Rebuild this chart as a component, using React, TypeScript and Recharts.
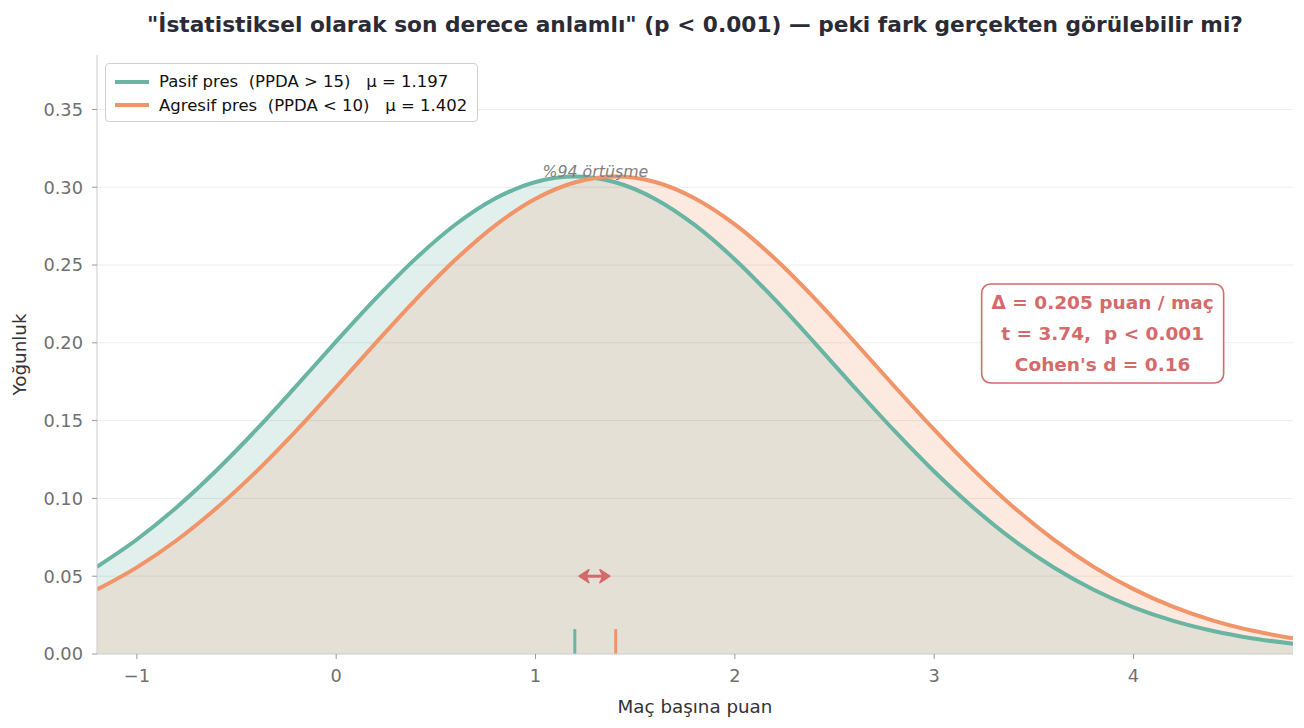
import { ComposedChart, Area, Line, XAxis, YAxis, ReferenceLine, ReferenceDot } from 'recharts'

const xs = [-1.2, -1.0, -0.8, -0.6, -0.4, -0.2, 0, 0.2, 0.4, 0.6, 0.8, 1.0, 1.2, 1.4, 1.6, 1.8, 2.0, 2.2, 2.4, 2.6, 2.8, 3.0, 3.2, 3.4, 3.6, 3.8, 4.0, 4.2, 4.4, 4.6, 4.8]
const pasif = [0.0561, 0.0736, 0.0943, 0.1181, 0.1443, 0.1723, 0.2009, 0.2287, 0.2543, 0.2762, 0.2929, 0.3034, 0.3069, 0.3032, 0.2925, 0.2756, 0.2536, 0.2279, 0.2, 0.1714, 0.1435, 0.1173, 0.0937, 0.073, 0.0556, 0.0413, 0.03, 0.0213, 0.0148, 0.01, 0.0066]
const agresif = [0.0414, 0.0557, 0.0731, 0.0938, 0.1174, 0.1436, 0.1716, 0.2002, 0.228, 0.2537, 0.2757, 0.2926, 0.3032, 0.3069, 0.3034, 0.2928, 0.2761, 0.2542, 0.2286, 0.2007, 0.1721, 0.1442, 0.1179, 0.0942, 0.0735, 0.056, 0.0417, 0.0303, 0.0215, 0.0149, 0.0101]
const means = { pasif: 1.197, agresif: 1.402 }
const xTicks = [-1, 0, 1, 2, 3, 4]
const yTicks = [0, 0.05, 0.1, 0.15, 0.2, 0.25, 0.3, 0.35]
const statLines = ['Δ = 0.205 puan / maç', 't = 3.74,  p < 0.001', "Cohen's d = 0.16"]
const legendRows = [
  { key: 'pasif', text: `Pasif pres  (PPDA > 15)   μ = ${means.pasif}` },
  { key: 'agresif', text: `Agresif pres  (PPDA < 10)   μ = ${means.agresif}` },
]

const data = xs.map((x, i) => ({
  x,
  pasif: pasif[i],
  agresif: agresif[i],
  overlap: Math.min(pasif[i], agresif[i]),
}))

const GREEN = '#69b4a3'
const ORANGE = '#f19468'
const RED = '#d46a6a'
const FONT = '"DejaVu Sans", sans-serif'
const colors: Record<string, string> = { pasif: GREEN, agresif: ORANGE }

function ChartLegend() {
  return (
    <div style={{ position: 'absolute', top: 63, left: 105, width: 373, height: 59, boxSizing: 'border-box', background: '#fff', border: '1px solid #d0d0d0', borderRadius: 4, padding: '6px 0 0 9px', fontSize: 16.5, color: '#111' }}>
      {legendRows.map((r) => (
        <div key={r.key} style={{ display: 'flex', alignItems: 'center', height: 23.5 }}>
          <span style={{ display: 'inline-block', width: 34, height: 4, background: colors[r.key], marginRight: 10 }} />
          <span style={{ whiteSpace: 'pre' }}>{r.text}</span>
        </div>
      ))}
    </div>
  )
}

function DoubleArrow(props: any) {
  const { x1, x2, y1 } = props
  const h = 6.5
  return (
    <g>
      <line x1={x1 + 6} y1={y1} x2={x2 - 6} y2={y1} stroke={RED} strokeWidth={3} />
      <polygon points={`${x1},${y1} ${x1 + 10},${y1 - h} ${x1 + 7},${y1} ${x1 + 10},${y1 + h}`} fill={RED} stroke={RED} strokeWidth={1.5} strokeLinejoin="round" />
      <polygon points={`${x2},${y1} ${x2 - 10},${y1 - h} ${x2 - 7},${y1} ${x2 - 10},${y1 + h}`} fill={RED} stroke={RED} strokeWidth={1.5} strokeLinejoin="round" />
    </g>
  )
}

function StatBox(props: any) {
  const { cx, cy } = props
  const w = 242
  const h = 99
  return (
    <g>
      <rect x={cx - w / 2} y={cy - h / 2} width={w} height={h} rx={9} fill="#fff" stroke={RED} strokeWidth={1.6} />
      {statLines.map((t, i) => (
        <text key={t} x={cx} y={cy + (i - 1) * 31} textAnchor="middle" dominantBaseline="central" fill={RED} fontFamily={FONT} fontSize={18.5} fontWeight="bold" style={{ whiteSpace: 'pre' }}>
          {t}
        </text>
      ))}
    </g>
  )
}

function OverlapLabel(props: any) {
  const { cx, cy } = props
  return (
    <text x={cx} y={cy} textAnchor="middle" dominantBaseline="central" fill="#808080" fontFamily={FONT} fontSize={15.8} fontStyle="italic">
      %94 örtüşme
    </text>
  )
}

export default function App() {
  return (
    <div style={{ position: 'absolute', top: 0, left: 0, width: 1304, height: 728, background: '#fff', fontFamily: FONT }}>
      <div style={{ position: 'absolute', top: 12, left: 0, width: 1390, textAlign: 'center', fontSize: 21.7, fontWeight: 'bold', color: '#2b2b35' }}>
        "İstatistiksel olarak son derece anlamlı" (p &lt; 0.001) — peki fark gerçekten görülebilir mi?
      </div>
      <ComposedChart width={1304} height={728} data={data} margin={{ top: 55, right: 11, bottom: 44, left: 37 }}>
        <XAxis
          dataKey="x"
          type="number"
          domain={[-1.2, 4.8]}
          ticks={xTicks}
          allowDataOverflow
          tickFormatter={(v: number) => (v < 0 ? `−${Math.abs(v)}` : `${v}`)}
          tick={{ fill: '#707070', fontSize: 17.8, fontFamily: FONT }}
          stroke="#cccccc"
          tickLine={{ stroke: '#999' }}
          tickSize={5}
          tickMargin={10}
          height={30}
          label={{ value: 'Maç başına puan', position: 'insideBottom', offset: -29, fill: '#333', fontSize: 18.3, fontFamily: FONT }}
        />
        <YAxis
          type="number"
          domain={[0, 0.385]}
          ticks={yTicks}
          allowDataOverflow
          tickFormatter={(v: number) => v.toFixed(2)}
          tick={{ fill: '#707070', fontSize: 17.8, fontFamily: FONT }}
          stroke="#cccccc"
          tickLine={{ stroke: '#999' }}
          tickSize={5}
          tickMargin={9}
          width={60}
          label={{ value: 'Yoğunluk', angle: -90, position: 'insideLeft', offset: -17, textAnchor: 'middle', fill: '#333', fontSize: 18.3, fontFamily: FONT }}
        />
        <Area type="monotone" dataKey="pasif" stroke="none" fill={GREEN} fillOpacity={0.2} isAnimationActive={false} />
        <Area type="monotone" dataKey="agresif" stroke="none" fill={ORANGE} fillOpacity={0.2} isAnimationActive={false} />
        <Area type="monotone" dataKey="overlap" stroke="none" fill="#e4e0d6" fillOpacity={1} isAnimationActive={false} />
        {yTicks.slice(1).map((t) => (
          <ReferenceLine key={t} y={t} stroke="rgba(0,0,0,0.07)" strokeWidth={1} />
        ))}
        <Line type="monotone" dataKey="pasif" stroke={GREEN} strokeWidth={4} dot={false} isAnimationActive={false} />
        <Line type="monotone" dataKey="agresif" stroke={ORANGE} strokeWidth={4} dot={false} isAnimationActive={false} />
        <ReferenceLine segment={[{ x: means.pasif, y: 0 }, { x: means.pasif, y: 0.016 }]} stroke={GREEN} strokeWidth={3} />
        <ReferenceLine segment={[{ x: means.agresif, y: 0 }, { x: means.agresif, y: 0.016 }]} stroke={ORANGE} strokeWidth={3} />
        <ReferenceLine segment={[{ x: 1.218, y: 0.05 }, { x: 1.373, y: 0.05 }]} shape={DoubleArrow} />
        <ReferenceDot x={1.3} y={0.31} r={0} shape={OverlapLabel} />
        <ReferenceDot x={3.845} y={0.206} r={0} shape={StatBox} />
      </ComposedChart>
      <ChartLegend />
    </div>
  )
}
